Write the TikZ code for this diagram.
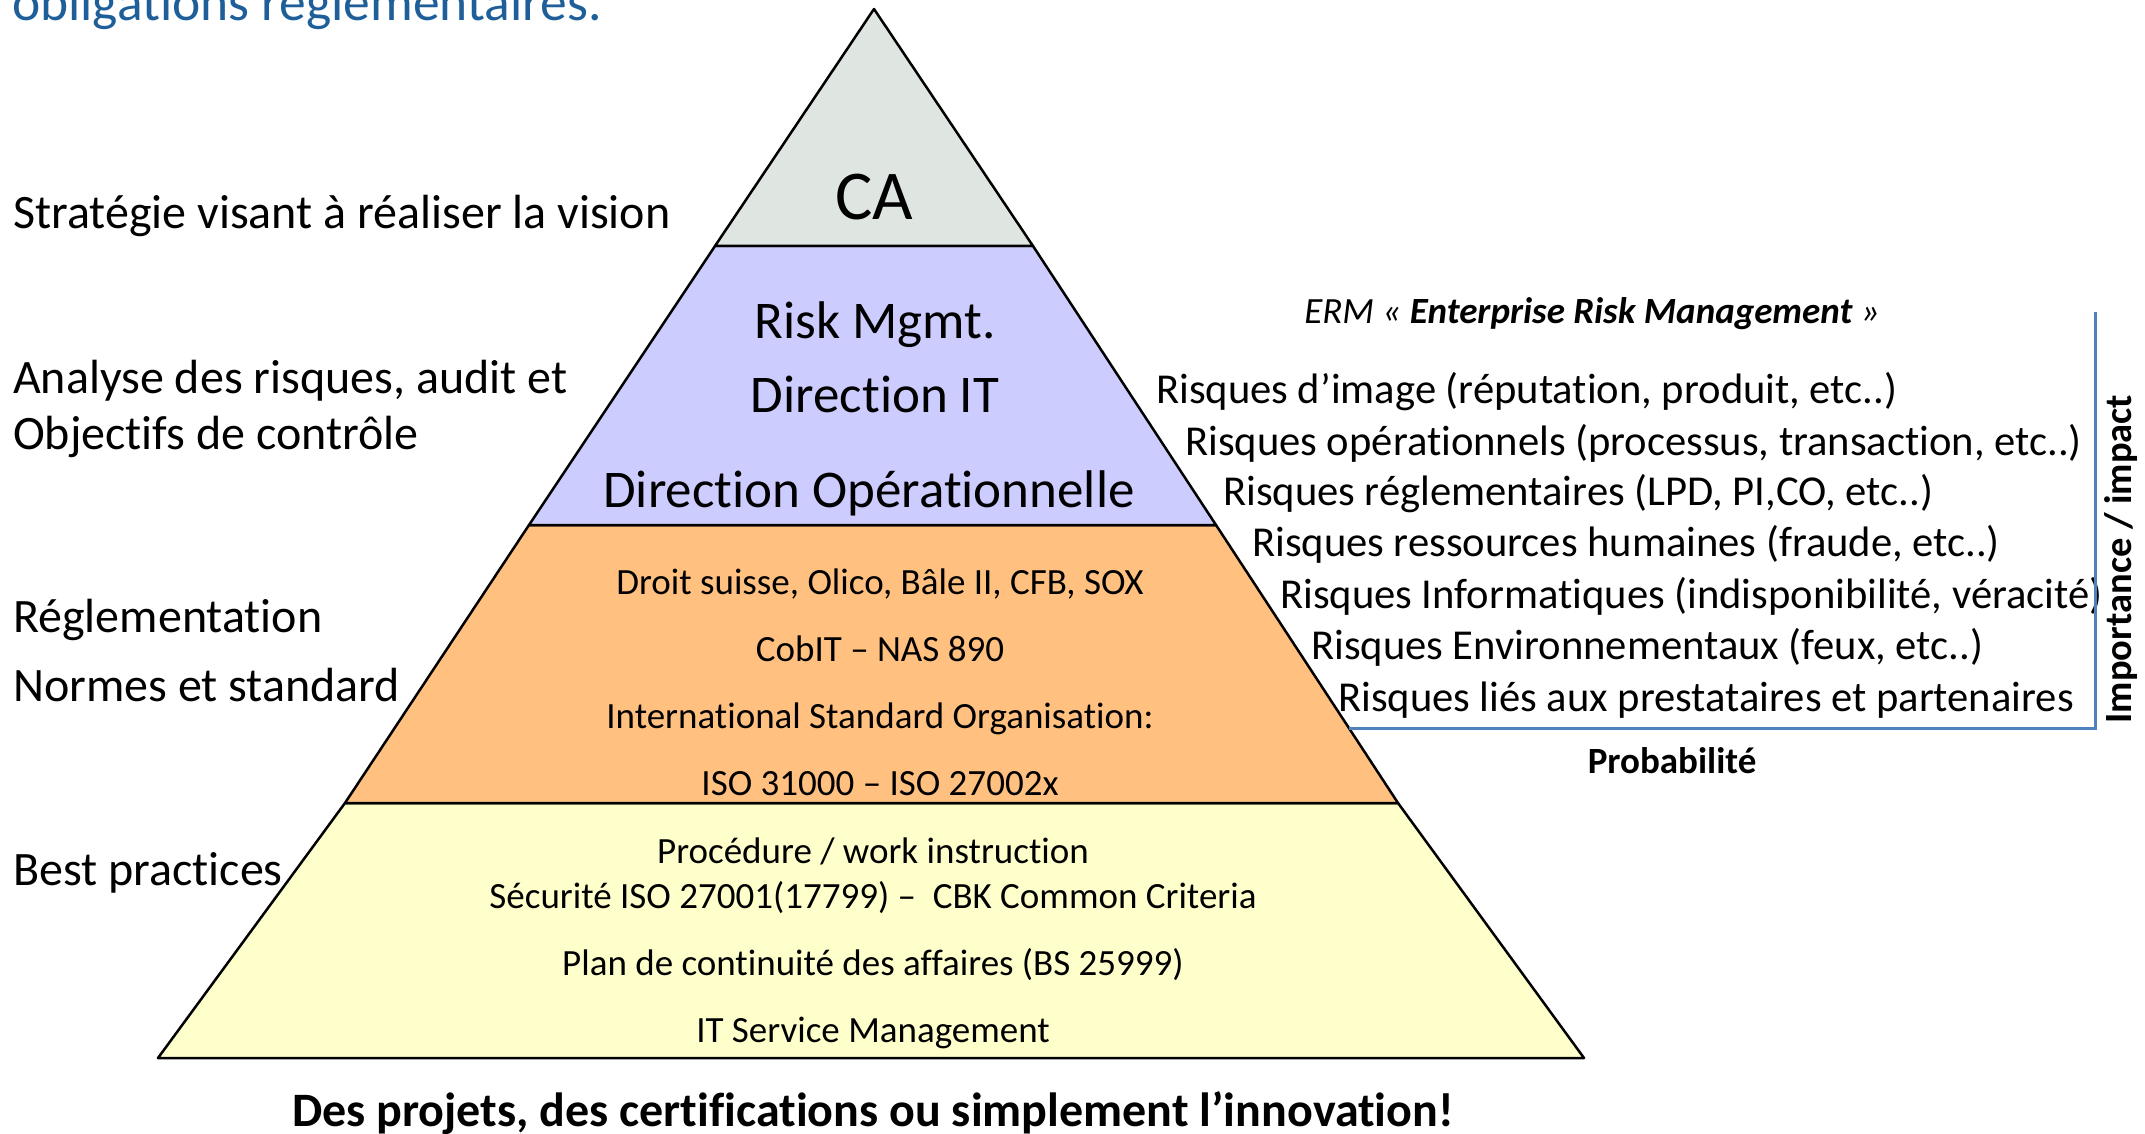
\documentclass[tikz,border=0pt]{standalone}
\usepackage{fontspec}
\setmainfont{Carlito}[Ligatures={NoCommon}]
\definecolor{cafill}{RGB}{223,230,226}
\definecolor{rmfill}{RGB}{204,204,255}
\definecolor{regfill}{RGB}{255,192,128}
\definecolor{bpfill}{RGB}{255,255,204}
\definecolor{axisblue}{RGB}{79,129,189}
\definecolor{titleblue}{RGB}{31,95,153}
\tikzset{
  level/.style={draw=black, line width=2.5pt, line join=round},
  side/.style={anchor=base west, inner sep=0pt, font=\fontsize{48}{54}\selectfont},
  mid/.style={anchor=base, inner sep=0pt, font=\fontsize{53}{60}\selectfont},
  small/.style={anchor=base, inner sep=0pt, font=\fontsize{37}{44}\selectfont},
  risk/.style={anchor=base west, inner sep=0pt, font=\fontsize{42.6}{48}\selectfont},
  axisline/.style={draw=axisblue, line width=3pt}
}
\begin{document}
\begin{tikzpicture}[x=1pt,y=-1pt]
\useasboundingbox (0,0) rectangle (2145,1134);
% pyramid levels
\path[level, fill=bpfill] (345,803) -- (1398,803) -- (1584,1058) -- (158,1058) -- cycle;
\path[level, fill=regfill] (529,525) -- (1216,525) -- (1398,803) -- (345,803) -- cycle;
\path[level, fill=rmfill] (715,246) -- (1033,246) -- (1216,525) -- (529,525) -- cycle;
\path[level, fill=cafill] (874,9) -- (1033,246) -- (715,246) -- cycle;

% title fragment
\node[anchor=base west, inner sep=0pt, text=titleblue, font=\fontsize{53.5}{60}\selectfont] (title) at (12,21) {obligations réglementaires.};

% left labels
\node[side] (strat) at (13,229) {Stratégie visant à réaliser la vision};
\node[side] (ana1) at (13,393) {Analyse des risques, audit et};
\node[side] (ana2) at (13,449) {Objectifs de contrôle};
\node[side] (regl) at (13,632) {Réglementation};
\node[side] (norm) at (13,701) {Normes et standard};
\node[side] (best) at (13,885) {Best practices};

% pyramid texts
\node[anchor=base, inner sep=0pt, font=\fontsize{70}{76}\selectfont] (ca) at (874,220) {CA};
\node[mid] (rm) at (875,338) {Risk Mgmt.};
\node[mid] (dit) at (875,412) {Direction IT};
\node[mid] (dop) at (869,507) {Direction Opérationnelle};
\node[small] (o1) at (880,594) {Droit suisse, Olico, Bâle II, CFB, SOX};
\node[small] (o2) at (880,661) {CobIT – NAS 890};
\node[small] (o3) at (880,728) {International Standard Organisation:};
\node[small] (o4) at (880,795) {ISO 31000 – ISO 27002x};
\node[small] (y1) at (873,863) {Procédure / work instruction};
\node[small] (y2) at (873,908) {Sécurité ISO 27001(17799) –~ CBK Common Criteria};
\node[small] (y3) at (873,975) {Plan de continuité des affaires (BS 25999)};
\node[small] (y4) at (873,1042) {IT Service Management};

\node[anchor=base, inner sep=0pt, font=\fontsize{48}{54}\selectfont\bfseries] (bottom) at (873,1126) {Des projets, des certifications ou simplement l’innovation!};

% ERM block
\node[anchor=base, inner sep=0pt, font=\fontsize{37}{44}\selectfont\itshape] (erm) at (1592,323) {ERM « \textbf{Enterprise Risk Management} »};
\node[risk] (r1) at (1156,403) {Risques d’image (réputation, produit, etc..)};
\node[risk] (r2) at (1185,455) {Risques opérationnels (processus, transaction, etc..)};
\node[risk] (r3) at (1223,505) {Risques réglementaires (LPD, PI,CO, etc..)};
\node[risk] (r4) at (1252,556) {Risques ressources humaines (fraude, etc..)};
\node[risk] (r5) at (1280,608) {Risques Informatiques (indisponibilité, véracité)};
\node[risk] (r6) at (1311,659) {Risques Environnementaux (feux, etc..)};
\node[risk] (r7) at (1338,711) {Risques liés aux prestataires et partenaires};

\coordinate (axtop) at (2095,312);
\coordinate (axcorner) at (2095,728);
\coordinate (axleft) at (1349,728);
\draw[axisline, line join=miter] (axtop) -- (axcorner) -- (axleft);

\node[anchor=base, inner sep=0pt, font=\fontsize{37}{44}\selectfont\bfseries] (prob) at (1672,773) {Probabilité};
\node[rotate=90, inner sep=0pt, font=\fontsize{38.5}{44}\selectfont\bfseries] (imp) at (2121,559) {Importance / impact};
\end{tikzpicture}
\end{document}
